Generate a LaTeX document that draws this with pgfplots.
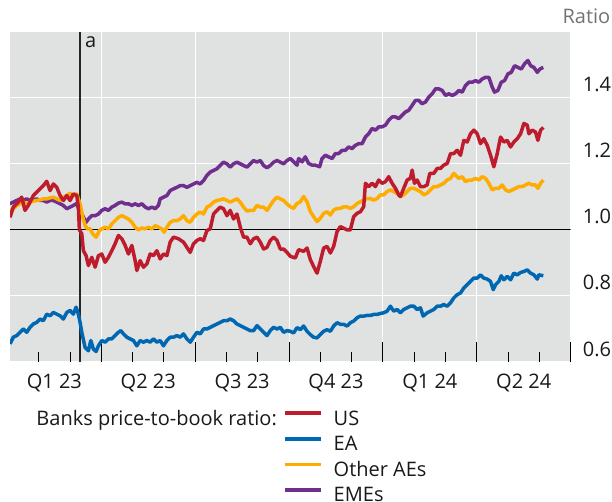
\documentclass[border=0pt]{standalone}
\usepackage{fontspec}
\setmainfont{Open Sans}
\usepackage{pgfplots}
\usepackage{pgfplotstable}
\pgfplotsset{compat=1.18}
\definecolor{bggray}{RGB}{224,225,225}
\definecolor{usred}{RGB}{190,28,45}
\definecolor{eablue}{RGB}{0,104,178}
\definecolor{aeorange}{RGB}{255,172,0}
\definecolor{emepurple}{RGB}{112,46,142}
\definecolor{txt}{RGB}{25,25,25}
\newcommand\lbl{\fontsize{20}{24}\selectfont}

% x = position index (pixel-like), converted to months since Jan 2023
\pgfplotstableread{
px v
10 1.038
13.3 1.069
18.3 1.084
21.7 1.099
25 1.059
28.3 1.074
33.3 1.104
38.3 1.119
43.3 1.134
46.7 1.147
50 1.119
53.3 1.139
56.7 1.129
60 1.104
63.3 1.089
66.7 1.104
70 1.089
73.3 1.109
76.7 1.104
78.3 1.069
79.3 1.0
81.7 0.988
83.3 0.937
86 0.922
88.3 0.892
91.7 0.917
95 0.887
98.3 0.922
101.7 0.927
105 0.902
108.3 0.917
111.7 0.937
115 0.958
118.3 0.983
121.7 0.973
125 0.953
128.3 0.927
131.7 0.953
135 0.907
136.7 0.877
140 0.907
143.3 0.887
146.7 0.897
150 0.927
153.3 0.922
156.7 0.937
160 0.912
163.3 0.927
166.7 0.922
170 0.963
173.3 0.978
178.3 0.973
183.3 0.963
186.7 0.947
190 0.932
193.3 0.958
196.7 0.968
200 0.973
203.3 0.968
206.7 0.998
210 1.003
213.3 1.048
216.7 1.059
220 1.069
223.3 1.064
226.7 1.043
230 1.059
233.3 1.033
236.7 1.048
240 1.008
243.3 0.978
246.7 0.978
250 0.958
253.3 0.973
256.7 0.978
260 0.963
263.3 0.942
266.7 0.947
270 0.968
273.3 0.978
276.7 0.968
280 0.942
283.3 0.942
286.7 0.932
290 0.920
295 0.915
298.3 0.940
303.3 0.935
306.7 0.945
310 0.910
313.3 0.889
316.7 0.869
320 0.905
323.3 0.945
326.7 0.950
330 0.930
333.3 0.950
336.7 0.995
340 1.010
343.3 1.005
346.7 1.000
350 1.000
353.3 1.040
356.7 1.050
360 1.055
363.3 1.070
365 1.141
368.3 1.131
371.7 1.141
375 1.131
378.3 1.151
381.7 1.141
385 1.146
388.3 1.161
391.7 1.141
395 1.126
398.3 1.106
400 1.101
403.3 1.126
406.7 1.151
410 1.156
411.7 1.181
414 1.141
416.7 1.151
420 1.131
423.3 1.131
426.7 1.136
429.3 1.171
433.3 1.171
436.7 1.186
440 1.186
443.3 1.196
446.7 1.201
450 1.231
453.3 1.231
456.7 1.241
460 1.226
463.3 1.271
466.7 1.266
470 1.291
473.3 1.302
476.7 1.291
480 1.261
483.3 1.276
486.7 1.256
490 1.226
493.3 1.191
496.7 1.231
500 1.281
503.3 1.266
506.7 1.271
510 1.251
513.3 1.266
516.7 1.276
520 1.291
523.3 1.322
526.7 1.317
528.3 1.291
531.7 1.302
535 1.296
537.3 1.271
540 1.302
542.7 1.310
}\tblUS

\pgfplotstableread{
px v
10 0.655
13.3 0.675
16.7 0.680
20 0.690
23.3 0.700
26.7 0.690
30 0.705
33.3 0.715
36.7 0.720
40 0.730
43.3 0.725
46.7 0.745
50 0.740
53.3 0.750
56.7 0.745
60 0.740
63.3 0.730
66.7 0.750
70 0.756
73.3 0.745
76 0.766
78.3 0.745
80 0.720
81.7 0.690
85 0.644
88.3 0.634
90.7 0.665
93.3 0.639
96 0.632
98.3 0.649
101.7 0.665
105 0.660
108.3 0.670
111.7 0.670
115 0.680
118.3 0.690
120.7 0.695
123.3 0.685
126.7 0.675
130 0.670
133.3 0.665
136.7 0.649
140 0.665
143.3 0.660
146.7 0.665
150 0.660
153.3 0.670
156.7 0.660
160 0.665
163.3 0.649
166.7 0.665
170 0.675
173.3 0.675
176.7 0.680
180 0.675
183.3 0.685
186.7 0.670
190 0.660
193.3 0.675
196.7 0.690
200 0.685
203.3 0.700
206.7 0.700
210 0.705
213.3 0.710
216.7 0.715
220 0.720
223.3 0.725
226.7 0.725
230 0.730
233.3 0.725
236.7 0.715
240 0.710
243.3 0.705
246.7 0.700
250 0.695
253.3 0.695
256.7 0.710
260 0.700
263.3 0.690
266.7 0.680
270 0.695
273.3 0.705
276.7 0.700
280 0.705
283.3 0.690
286.7 0.695
290 0.693
293.3 0.688
296.7 0.704
300 0.698
303.3 0.709
306.7 0.693
310 0.683
313.3 0.675
316.7 0.673
320 0.683
323.3 0.693
326.7 0.698
330 0.693
333.3 0.709
336.7 0.719
340 0.714
343.3 0.714
346.7 0.709
350 0.719
353.3 0.724
356.7 0.734
360 0.739
363.3 0.739
366.7 0.741
370 0.741
373.3 0.744
376.7 0.744
380 0.747
383.3 0.749
386.7 0.754
390 0.769
393.3 0.754
396.7 0.759
400 0.749
403.3 0.759
406.7 0.764
410 0.769
413.3 0.769
416.7 0.759
420 0.764
422.7 0.739
426.7 0.749
430 0.754
433.3 0.759
436.7 0.769
440 0.769
443.3 0.774
446.7 0.769
450 0.779
453.3 0.794
456.7 0.804
460 0.809
463.3 0.824
466.7 0.834
470 0.844
473.3 0.854
476.7 0.854
480 0.864
483.3 0.854
486.7 0.851
490 0.844
492.7 0.819
495 0.834
498.3 0.844
500.7 0.861
503.3 0.849
506.7 0.859
510 0.849
513.3 0.869
516.7 0.864
520 0.871
523.3 0.874
526.7 0.879
530 0.869
533.3 0.864
536.7 0.851
538.3 0.864
542.7 0.861
}\tblEA

\pgfplotstableread{
px v
10 1.059
13.3 1.064
16.7 1.074
20 1.079
23.3 1.084
26.7 1.079
30 1.084
33.3 1.087
36.7 1.089
40 1.091
43.3 1.094
46.7 1.094
50 1.097
53.3 1.099
56.7 1.094
60 1.089
63.3 1.099
66.7 1.104
70 1.111
73.3 1.104
76.7 1.109
80 1.079
82.7 1.038
85 1.013
87.3 1.003
90 1.003
92.7 0.988
96 0.978
99.3 0.998
101.7 1.003
105 1.008
108.3 1.003
111.7 1.018
115 1.028
118.3 1.038
121.7 1.043
125 1.038
128.3 1.033
131.7 1.023
135 1.008
138.3 1.000
141.7 1.006
145 1.003
148.3 1.008
151.7 1.003
155 1.013
158.3 1.008
161.7 1.003
164 0.993
166.7 1.008
170 1.023
173.3 1.028
176.7 1.028
180 1.033
183.3 1.043
186.7 1.028
190 1.023
193.3 1.038
196.7 1.048
200 1.054
203.3 1.048
206.7 1.069
210 1.074
213.3 1.084
216.7 1.089
220 1.091
223.3 1.094
226.7 1.089
230 1.084
233.3 1.089
236.7 1.094
240 1.084
243.3 1.069
246.7 1.057
250 1.059
253.3 1.059
256.7 1.074
260 1.069
263.3 1.069
266.7 1.059
270 1.074
273.3 1.089
276.7 1.099
280 1.094
283.3 1.089
286.7 1.079
290 1.070
293.3 1.065
296.7 1.080
300 1.085
303.3 1.101
306.7 1.085
310 1.055
313.3 1.040
316.7 1.025
320 1.035
323.3 1.050
326.7 1.055
330 1.045
333.3 1.060
336.7 1.065
340 1.065
343.3 1.070
346.7 1.070
350 1.065
353.3 1.070
356.7 1.080
360 1.085
363.3 1.090
366.7 1.095
370 1.095
373.3 1.090
376.7 1.095
380 1.106
383.3 1.106
386.7 1.116
390 1.121
393.3 1.116
396.7 1.111
400 1.101
403.3 1.106
406.7 1.116
410 1.126
413.3 1.126
416.7 1.121
420 1.116
423.3 1.106
426.7 1.111
430 1.121
433.3 1.131
436.7 1.131
440 1.136
443.3 1.141
446.7 1.151
450 1.156
453.3 1.171
455 1.166
458.3 1.156
461.7 1.161
465 1.146
468.3 1.151
471.7 1.151
475 1.156
478.3 1.151
481.7 1.161
485 1.156
488.3 1.141
491.7 1.121
495 1.126
498.3 1.126
501.7 1.136
505 1.121
508.3 1.116
511.7 1.121
515 1.126
518.3 1.131
521.7 1.131
525 1.136
528.3 1.141
531.7 1.136
535 1.136
537.3 1.126
540 1.141
542.7 1.151
}\tblAE

\pgfplotstableread{
px v
10 1.079
13.3 1.084
16.7 1.089
20 1.094
23.3 1.089
26.7 1.094
30 1.089
33.3 1.089
36.7 1.094
40 1.089
43.3 1.089
46.7 1.084
50 1.089
53.3 1.089
56.7 1.084
60 1.079
63.3 1.074
66.7 1.064
70 1.069
73.3 1.074
76.7 1.080
79 1.060
81.7 1.048
86 1.023
88.3 1.033
91.7 1.043
95 1.043
98.3 1.048
101.7 1.059
105 1.064
108.3 1.059
111.7 1.069
115 1.074
118.3 1.081
121.7 1.084
125 1.079
128.3 1.079
131.7 1.074
135 1.079
138.3 1.074
141.7 1.079
145 1.069
148.3 1.064
151.7 1.069
155 1.064
158.3 1.074
160 1.094
163.3 1.099
166.7 1.104
170 1.119
173.3 1.124
176.7 1.129
180 1.134
183.3 1.134
186.7 1.129
190 1.134
193.3 1.139
196.7 1.144
200 1.139
203.3 1.149
206.7 1.165
210 1.175
213.3 1.180
216.7 1.185
220 1.195
223.3 1.205
226.7 1.200
230 1.190
233.3 1.200
236.7 1.205
240 1.200
243.3 1.195
246.7 1.190
250 1.200
253.3 1.210
256.7 1.205
260 1.210
263.3 1.195
266.7 1.188
270 1.195
273.3 1.205
276.7 1.210
280 1.205
283.3 1.200
286.7 1.210
290 1.216
293.3 1.206
296.7 1.196
298.3 1.216
301.7 1.206
305 1.221
308.3 1.201
311.7 1.196
315 1.196
319.3 1.191
321.7 1.216
325 1.226
328.3 1.221
331.7 1.216
335 1.231
338.3 1.231
341.7 1.241
345 1.241
348.3 1.251
351.7 1.246
355 1.256
358.3 1.261
361.7 1.261
365 1.281
368.3 1.291
371.7 1.307
375 1.302
378.3 1.312
381.7 1.312
385 1.317
388.3 1.332
391.7 1.342
395 1.342
398.3 1.337
401.7 1.347
405 1.357
408.3 1.362
411.7 1.377
415 1.392
418.3 1.392
421.7 1.382
425 1.387
428.3 1.402
431.7 1.412
435 1.427
438.3 1.427
441.7 1.422
445 1.407
448.3 1.412
451.7 1.407
455 1.412
458.3 1.422
461.7 1.417
465 1.437
468.3 1.447
471.7 1.447
475 1.452
478.3 1.447
481.7 1.457
485 1.462
488.3 1.462
491.7 1.432
494 1.417
497.3 1.422
500.7 1.447
504 1.452
507.3 1.472
510.7 1.477
514 1.497
517.3 1.492
520.7 1.487
524 1.503
527.3 1.513
530 1.497
533.3 1.492
536.7 1.477
539.3 1.487
542.7 1.492
}\tblEME

\begin{document}
\begin{tikzpicture}
\useasboundingbox (0,0) rectangle (612pt,501pt);
\begin{axis}[
  at={(10pt,139pt)}, anchor=south west,
  scale only axis, width=560.7pt, height=330.3pt,
  xmin=0.083, xmax=18, ymin=0.6, ymax=1.6,
  axis line style={draw=none},
  axis background/.style={fill=bggray},
  clip mode=individual,
  tick align=inside,
  xtick pos=bottom, ytick pos=right,
  xtick={3,6,9,12,15,18},
  xticklabels={},
  minor xtick={1,2,4,5,7,8,10,11,13,14,16,17},
  major tick length=20pt, minor tick length=10pt,
  xtick style={black, line width=0.9pt},
  xmajorgrids=true,
  extra x ticks={1.5,4.5,7.5,10.5,13.5,16.5},
  extra x tick labels={Q1 23,Q2 23,Q3 23,Q4 23,Q1 24,Q2 24},
  extra x tick style={grid=none, major tick length=0pt, tick style={draw=none},
    xticklabel style={anchor=base, inner sep=0pt, yshift=-26pt, font=\lbl, text=txt}},
  ytick={0.6,0.8,1.0,1.2,1.4},
  yticklabels={0.6,0.8,1.0,1.2,1.4},
  ytick style={draw=none},
  ymajorgrids=true,
  major grid style={white, line width=1.1pt},
  yticklabel style={anchor=base west, inner sep=0pt, xshift=12pt, yshift=6pt, font=\lbl, text=txt},
  legend style={at={(0.4869,-0.1453)}, anchor=north west, draw=none, fill=none,
    inner sep=0pt, font=\lbl, text=txt, row sep=5.6pt,
    nodes={inner sep=0pt, text height=15pt, text depth=5pt},
    /tikz/every odd column/.append style={column sep=11pt}},
  legend cell align=left,
  reverse legend,
  legend image code/.code={\draw[#1, line cap=butt] (0pt,7pt) -- (36pt,7pt);},
  every axis plot/.append style={line width=3.5pt, line join=round},
]
\addplot[black, line width=1.1pt, forget plot] coordinates {(0.083,1) (18,1)};
\addplot[black!85, line width=1.5pt, forget plot] coordinates {(2.32,0.6) (2.32,1.6)};
\addplot[emepurple] table[x expr=(\thisrowno{0}-7.4)/31.26, y index=1] \tblEME;
\addlegendentry{EMEs}
\addplot[aeorange] table[x expr=(\thisrowno{0}-7.4)/31.26, y index=1] \tblAE;
\addlegendentry{Other AEs}
\addplot[eablue] table[x expr=(\thisrowno{0}-7.4)/31.26, y index=1] \tblEA;
\addlegendentry{EA}
\addplot[usred] table[x expr=(\thisrowno{0}-7.4)/31.26, y index=1] \tblUS;
\addlegendentry{US}
\end{axis}
\node[anchor=base east, inner sep=0pt, font=\lbl, text=txt] at (277pt,76pt) {Banks price-to-book ratio:};
\node[anchor=base east, inner sep=0pt, font=\lbl, text=black!55] at (610.5pt,477pt) {Ratio};
\node[anchor=base west, inner sep=0pt, font=\lbl, text=txt] at (85pt,453.7pt) {a};
\end{tikzpicture}
\end{document}
